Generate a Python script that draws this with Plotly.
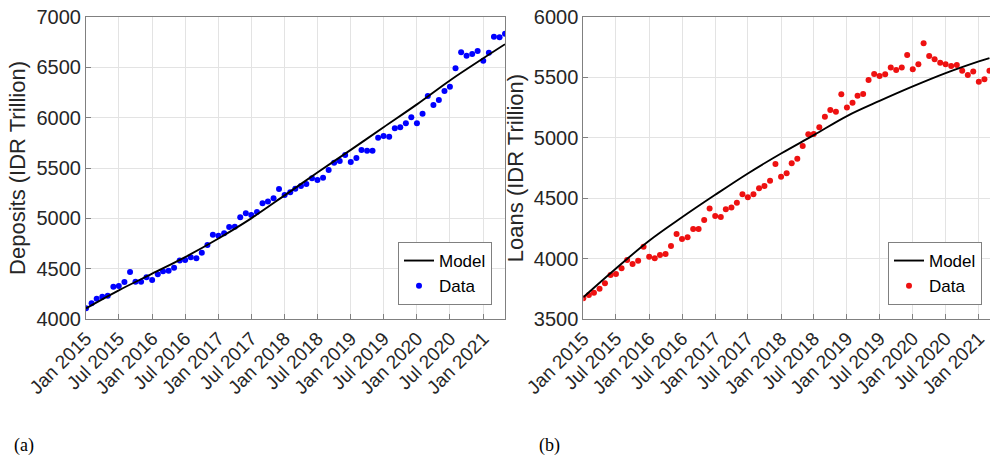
import pandas as pd
import plotly.graph_objects as go

# ---------------- data ----------------
dep_dates = pd.date_range("2015-01-01", periods=77, freq="MS")
deposits = [4106, 4156, 4202, 4222, 4232, 4321, 4328, 4368, 4467, 4371, 4371, 4414,
            4388, 4444, 4474, 4480, 4510, 4580, 4586, 4613, 4603, 4659, 4735, 4838,
            4828, 4851, 4914, 4917, 5010, 5050, 5033, 5063, 5149, 5166, 5199, 5291,
            5232, 5258, 5295, 5321, 5341, 5397, 5381, 5404, 5480, 5553, 5570, 5629,
            5560, 5599, 5679, 5672, 5672, 5801, 5818, 5811, 5894, 5904, 5944, 6003,
            5944, 6040, 6215, 6126, 6176, 6265, 6308, 6490, 6649, 6616, 6632, 6662,
            6566, 6646, 6805, 6798, 6834]

loan_dates = pd.date_range("2015-01-01", periods=75, freq="MS")
loans = [3671, 3699, 3718, 3751, 3796, 3865, 3873, 3920, 3988, 3955, 3983, 4099,
         4016, 4002, 4030, 4038, 4105, 4204, 4163, 4176, 4245, 4245, 4320, 4414,
         4353, 4345, 4408, 4422, 4463, 4532, 4507, 4532, 4582, 4601, 4645, 4783,
         4678, 4706, 4789, 4827, 4932, 5029, 5032, 5087, 5175, 5230, 5216, 5360,
         5250, 5291, 5349, 5363, 5479, 5528, 5512, 5526, 5581, 5561, 5581, 5685,
         5567, 5608, 5782, 5677, 5650, 5622, 5608, 5594, 5603, 5556, 5520, 5548,
         5465, 5484, 5556]

dep_model_dates = ["2015-01-01", "2015-07-01", "2016-01-01", "2016-07-01", "2017-01-01",
                   "2017-07-01", "2018-01-01", "2018-07-01", "2019-01-01", "2019-07-01",
                   "2020-01-01", "2020-07-01", "2021-01-01", "2021-05-01"]
dep_model = [4106, 4285, 4450, 4615, 4800, 5000, 5228, 5455, 5680, 5905, 6132, 6370, 6590, 6730]

loan_model_dates = ["2015-01-01", "2015-07-01", "2016-01-01", "2016-07-01", "2017-01-01",
                    "2017-07-01", "2018-01-01", "2018-07-01", "2019-01-01", "2019-07-01",
                    "2020-01-01", "2020-07-01", "2021-01-01", "2021-03-01"]
loan_model = [3680, 3918, 4148, 4342, 4528, 4705, 4870, 5022, 5180, 5305, 5425, 5535, 5632, 5660]

tick_dates = ["2015-01-01", "2015-07-01", "2016-01-01", "2016-07-01", "2017-01-01",
              "2017-07-01", "2018-01-01", "2018-07-01", "2019-01-01", "2019-07-01",
              "2020-01-01", "2020-07-01", "2021-01-01"]
tick_labels = ["Jan 2015", "Jul 2015", "Jan 2016", "Jul 2016", "Jan 2017", "Jul 2017",
               "Jan 2018", "Jul 2018", "Jan 2019", "Jul 2019", "Jan 2020", "Jul 2020",
               "Jan 2021"]

# ---------------- figure ----------------
W, H = 990, 458
FONT = "Liberation Sans, Arial, sans-serif"
AX = "#808080"
TXT = "#262626"
GRID = "#e3e3e3"

fig = go.Figure()

fig.add_trace(go.Scatter(x=dep_dates, y=deposits, mode="markers", name="Data",
                         marker=dict(color="#0000ff", size=6), legendrank=2,
                         xaxis="x", yaxis="y", legend="legend"))
fig.add_trace(go.Scatter(x=dep_model_dates, y=dep_model, mode="lines", name="Model",
                         line=dict(color="black", width=1.9, shape="spline"), legendrank=1,
                         xaxis="x", yaxis="y", legend="legend"))

fig.add_trace(go.Scatter(x=loan_dates, y=loans, mode="markers", name="Data",
                         marker=dict(color="#ee1111", size=6), legendrank=2,
                         xaxis="x2", yaxis="y2", legend="legend2"))
fig.add_trace(go.Scatter(x=loan_model_dates, y=loan_model, mode="lines", name="Model",
                         line=dict(color="black", width=1.9, shape="spline"), legendrank=1,
                         xaxis="x2", yaxis="y2", legend="legend2"))

def xstyle(domain, rng, anchor):
    return dict(domain=domain, range=rng, anchor=anchor, type="date", automargin=False,
                tickmode="array", tickvals=tick_dates, ticktext=tick_labels,
                tickangle=-45, showgrid=True, gridcolor=GRID, gridwidth=1,
                showline=True, linecolor=AX, linewidth=1, mirror=True,
                ticks="inside", ticklen=5, tickcolor=AX, zeroline=False,
                tickfont=dict(family=FONT, size=19, color=TXT))

def ystyle(domain, rng, anchor, title, mirror):
    return dict(domain=domain, range=rng, anchor=anchor, dtick=500, automargin=False,
                showgrid=True, gridcolor=GRID, gridwidth=1,
                showline=True, linecolor=AX, linewidth=1, mirror=mirror,
                ticks="inside", ticklen=5, tickcolor=AX, zeroline=False,
                tickfont=dict(family=FONT, size=20, color=TXT),
                title=dict(text=title, font=dict(family=FONT, size=22, color=TXT), standoff=4))

ydom = [139 / H, 441 / H]
fig.update_layout(
    width=W, height=H,
    margin=dict(l=0, r=0, t=0, b=0),
    paper_bgcolor="white", plot_bgcolor="white",
    showlegend=True,
    xaxis=xstyle([86 / W, 505 / W], ["2015-01-01", "2021-05-01"], "y"),
    yaxis=ystyle(ydom, [4000, 7000], "x", "Deposits (IDR Trillion)", True),
    xaxis2=xstyle([583.3 / W, 1.0], ["2015-01-01", "2021-03-04"], "y2"),
    yaxis2=ystyle(ydom, [3500, 6000], "x2", "Loans (IDR Trillion)", False),
    legend=dict(x=492 / W, xanchor="right", y=(H - 305) / H, yanchor="bottom",
                bordercolor=AX, borderwidth=1, bgcolor="white",
                font=dict(family=FONT, size=17, color="black"),
                tracegroupgap=0, itemsizing="trace"),
    legend2=dict(x=888 / W, xanchor="left", y=(H - 305) / H, yanchor="bottom",
                 bordercolor=AX, borderwidth=1, bgcolor="white",
                 font=dict(family=FONT, size=17, color="black"),
                 tracegroupgap=0, itemsizing="trace"),
    annotations=[
        dict(text="(a)", x=12 / W, y=(H - 445) / H, xref="paper", yref="paper",
             xanchor="left", yanchor="middle", showarrow=False,
             font=dict(family="Liberation Serif, Times New Roman, serif", size=18, color="black")),
        dict(text="(b)", x=537 / W, y=(H - 445) / H, xref="paper", yref="paper",
             xanchor="left", yanchor="middle", showarrow=False,
             font=dict(family="Liberation Serif, Times New Roman, serif", size=18, color="black")),
    ],
)

fig.write_html("out.html", config={"displayModeBar": False},
               post_script="document.body.style.margin='0';document.body.style.padding='0';")
